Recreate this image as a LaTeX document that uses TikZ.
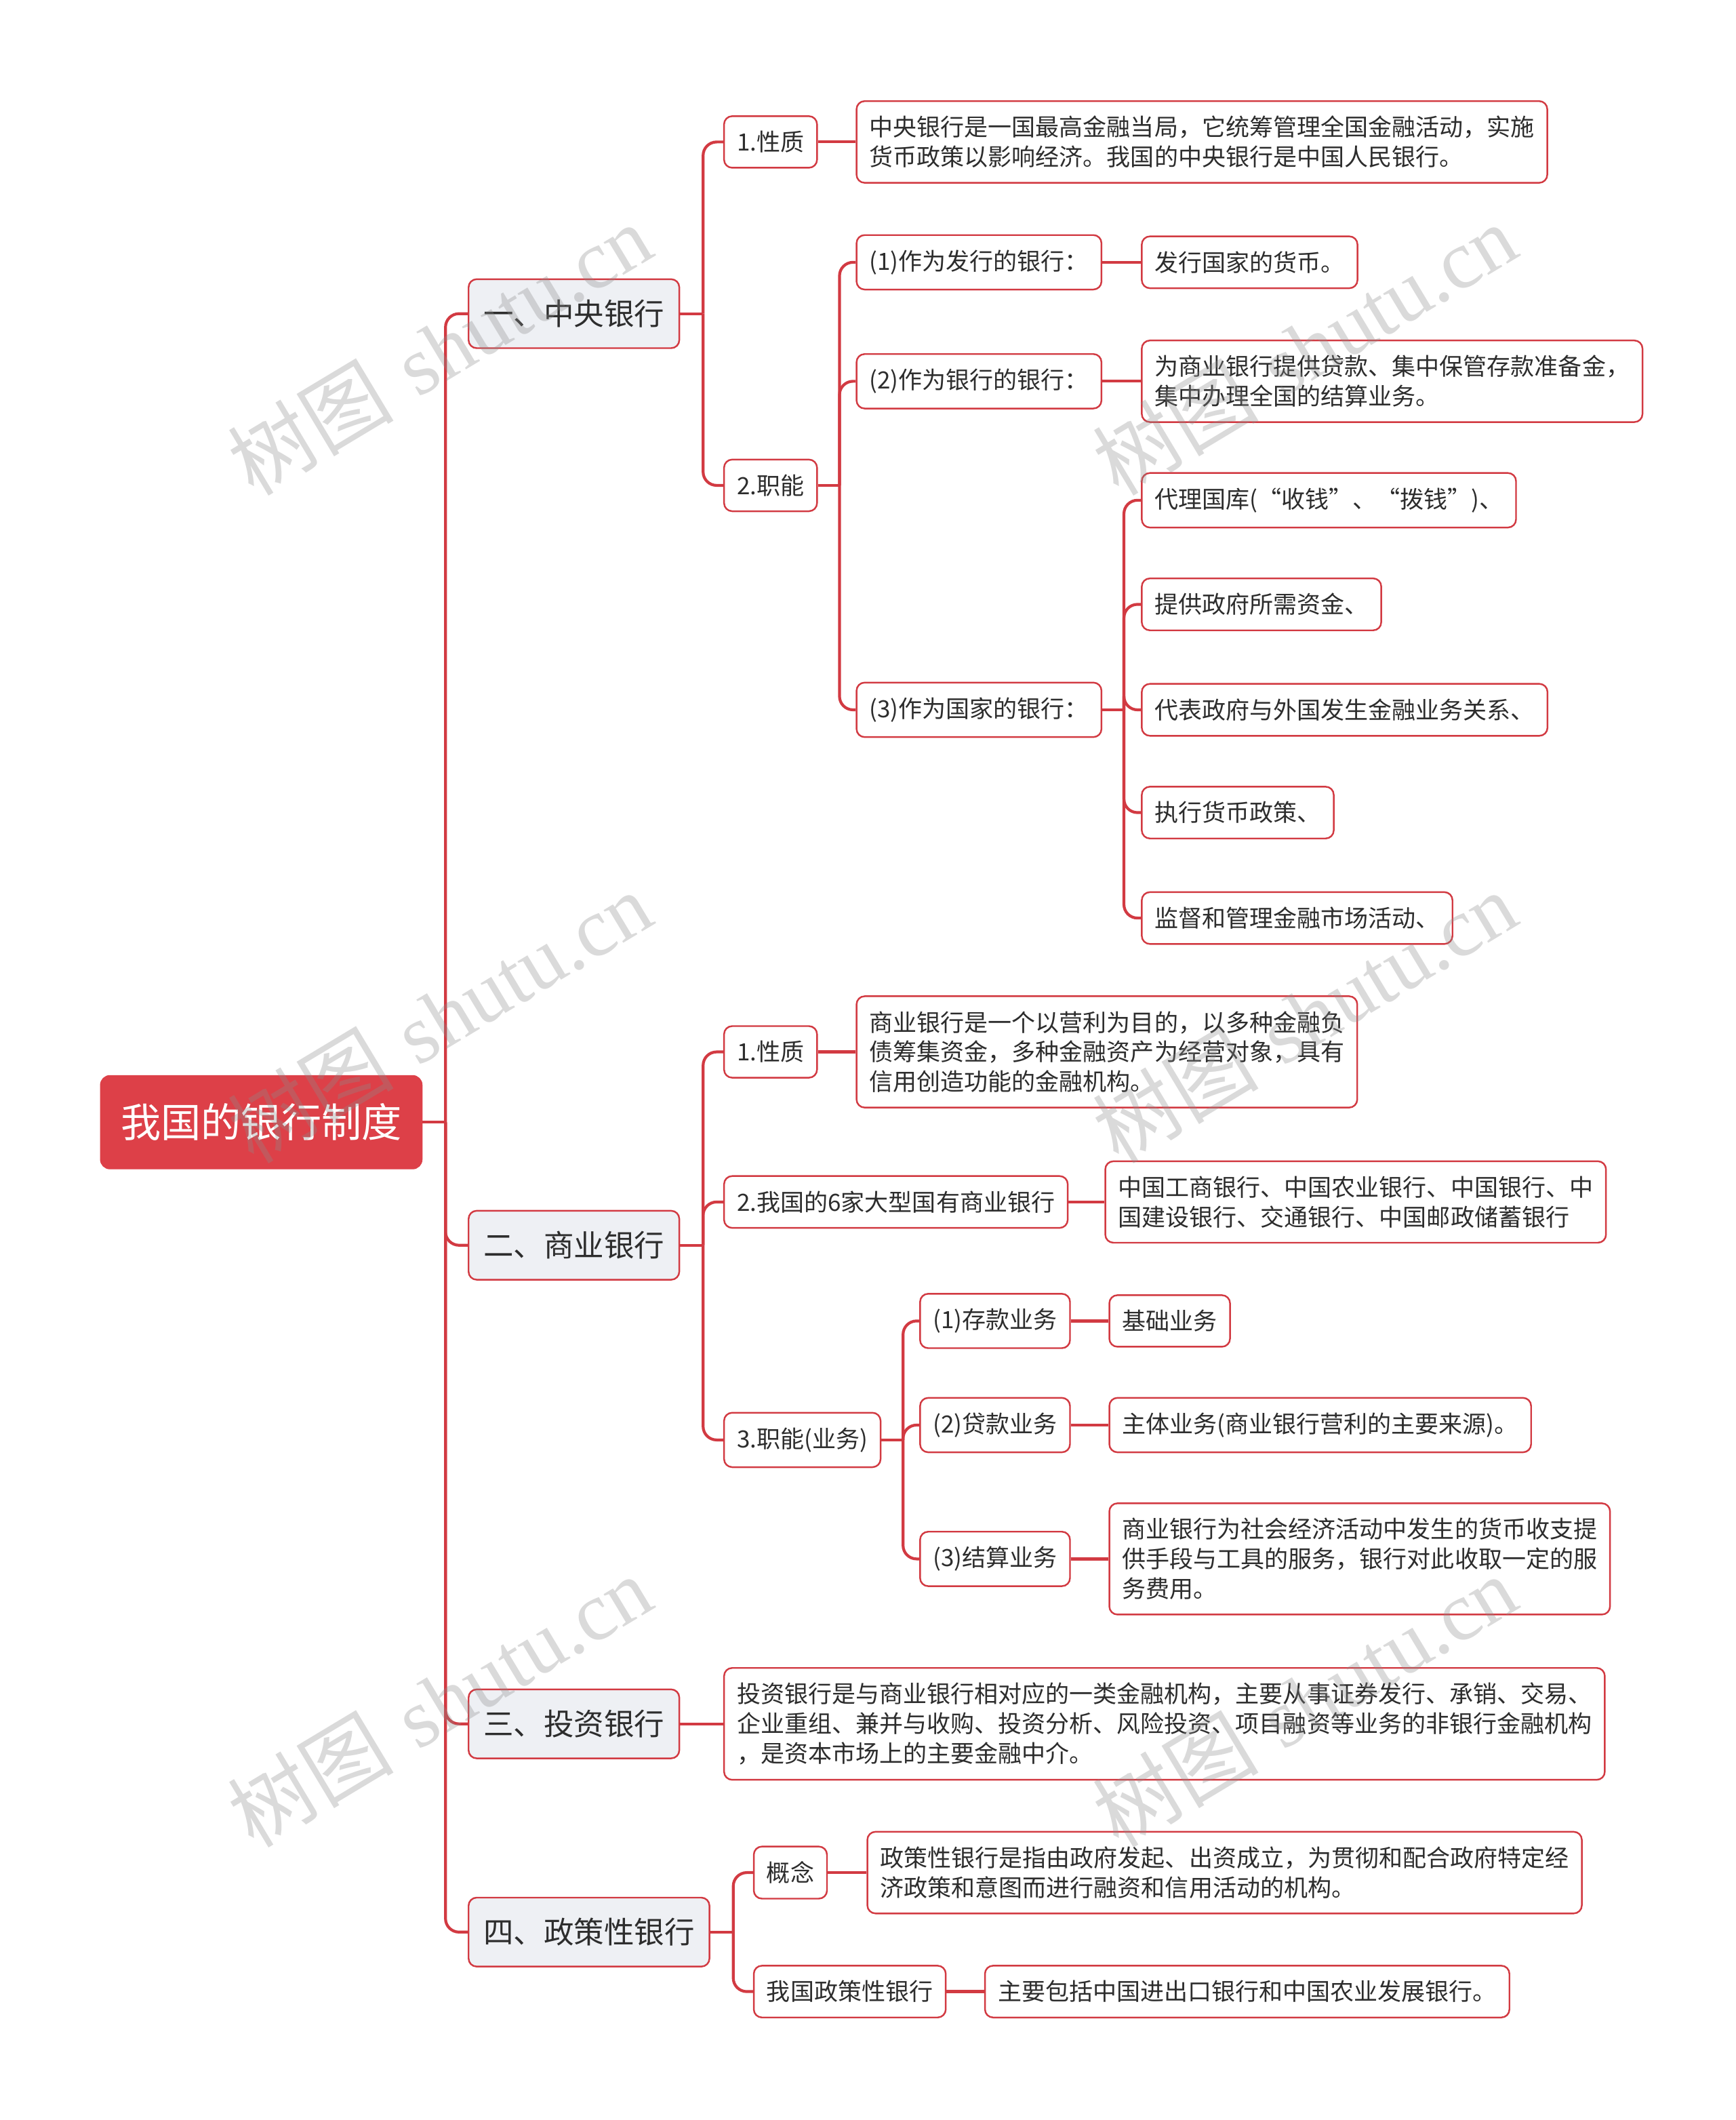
\documentclass[tikz,border=0pt]{standalone}
\usepackage{fontspec}
\newfontfamily\cjkfont{Noto Sans CJK SC}
\newfontfamily\wmserif{Liberation Serif}
\usetikzlibrary{positioning}
\definecolor{mapred}{RGB}{221,64,72}
\definecolor{linkred}{RGB}{210,58,66}
\definecolor{topicfill}{RGB}{238,240,244}
\definecolor{inkdark}{RGB}{45,45,45}
\tikzset{
  rootbox/.style={fill=mapred, draw=mapred, rounded corners=0.14cm, text=white,
    font=\cjkfont\fontsize{16.9}{20}\selectfont, minimum height=1.38cm,
    inner xsep=0.3cm, anchor=west},
  topicbox/.style={fill=topicfill, draw=linkred, line width=0.7pt, rounded corners=0.12cm,
    text=inkdark, font=\cjkfont\fontsize{12.7}{15}\selectfont, minimum height=1.02cm,
    inner xsep=0.22cm, anchor=west},
  itembox/.style={fill=white, draw=linkred, line width=0.7pt, rounded corners=0.12cm,
    text=inkdark, font=\cjkfont\fontsize{10}{12.5}\selectfont, minimum height=0.76cm,
    inner xsep=0.19cm, inner ysep=0.22cm, align=left, anchor=west},
  link/.style={draw=linkred, line width=1.2pt, rounded corners=0.2cm},
  watermark/.style={text=black!45, opacity=0.32, rotate=31,
    font=\fontsize{35}{40}\selectfont},
}

\begin{document}
\begin{tikzpicture}[x=0.02cm, y=-0.02cm]
  \useasboundingbox (0,0) rectangle (1284,1568);
  \fill[white] (0,0) rectangle (1284,1568);

  % --- root and main topics ---
  \node[rootbox] (root) at (74,830) {我国的银行制度};
  \node[topicbox] (central) at (346,232) {一、中央银行};
  \node[topicbox] (commercial) at (346,921) {二、商业银行};
  \node[topicbox] (invest) at (346,1275) {三、投资银行};
  \node[topicbox] (policy) at (346,1429) {四、政策性银行};

  % --- central bank ---
  \node[itembox] (cNature) at (535,105) {1.性质};
  \node[itembox] (cNatureTxt) at (633,105)
    {中央银行是一国最高金融当局，它统筹管理全国金融活动，实施\\货币政策以影响经济。我国的中央银行是中国人民银行。};
  \node[itembox] (cFunc) at (535,359) {2.职能};
  \node[itembox] (cIssue) at (633,194) {(1)作为发行的银行：};
  \node[itembox] (cIssueTxt) at (844,194) {发行国家的货币。};
  \node[itembox] (cBanks) at (633,282) {(2)作为银行的银行：};
  \node[itembox] (cBanksTxt) at (844,282)
    {为商业银行提供贷款、集中保管存款准备金，\\集中办理全国的结算业务。};
  \node[itembox] (cState) at (633,525) {(3)作为国家的银行：};
  \node[itembox] (cStateA) at (844,370) {代理国库(“收钱”、“拨钱”)、};
  \node[itembox] (cStateB) at (844,447) {提供政府所需资金、};
  \node[itembox] (cStateC) at (844,525) {代表政府与外国发生金融业务关系、};
  \node[itembox] (cStateD) at (844,601) {执行货币政策、};
  \node[itembox] (cStateE) at (844,679) {监督和管理金融市场活动、};

  % --- commercial bank ---
  \node[itembox] (sNature) at (535,778) {1.性质};
  \node[itembox] (sNatureTxt) at (633,778)
    {商业银行是一个以营利为目的，以多种金融负\\债筹集资金，多种金融资产为经营对象，具有\\信用创造功能的金融机构。};
  \node[itembox] (sBig) at (535,889) {2.我国的6家大型国有商业银行};
  \node[itembox] (sBigTxt) at (817,889)
    {中国工商银行、中国农业银行、中国银行、中\\国建设银行、交通银行、中国邮政储蓄银行};
  \node[itembox] (sFunc) at (535,1065) {3.职能(业务)};
  \node[itembox] (sDeposit) at (680,977) {(1)存款业务};
  \node[itembox] (sDepositTxt) at (820,977) {基础业务};
  \node[itembox] (sLoan) at (680,1054) {(2)贷款业务};
  \node[itembox] (sLoanTxt) at (820,1054) {主体业务(商业银行营利的主要来源)。};
  \node[itembox] (sSettle) at (680,1153) {(3)结算业务};
  \node[itembox] (sSettleTxt) at (820,1153)
    {商业银行为社会经济活动中发生的货币收支提\\供手段与工具的服务，银行对此收取一定的服\\务费用。};

  % --- investment bank ---
  \node[itembox] (investTxt) at (535,1275)
    {投资银行是与商业银行相对应的一类金融机构，主要从事证券发行、承销、交易、\\企业重组、兼并与收购、投资分析、风险投资、项目融资等业务的非银行金融机构\\，是资本市场上的主要金融中介。};

  % --- policy bank ---
  \node[itembox] (pIdea) at (557,1385) {概念};
  \node[itembox] (pIdeaTxt) at (641,1385)
    {政策性银行是指由政府发起、出资成立，为贯彻和配合政府特定经\\济政策和意图而进行融资和信用活动的机构。};
  \node[itembox] (pOurs) at (557,1473) {我国政策性银行};
  \node[itembox] (pOursTxt) at (728,1473) {主要包括中国进出口银行和中国农业发展银行。};

  % --- connectors ---
  \draw[link] (root.east) -- ++(17,0) coordinate (rootJ);
  \foreach \t in {central,commercial,invest,policy}
    \draw[link] (rootJ) |- (\t.west);

  \draw[link] (central.east) -- ++(17,0) coordinate (centralJ);
  \foreach \t in {cNature,cFunc}
    \draw[link] (centralJ) |- (\t.west);
  \draw[link] (cNature.east) -- (cNatureTxt.west);

  \draw[link] (cFunc.east) -- ++(16,0) coordinate (cFuncJ);
  \foreach \t in {cIssue,cBanks,cState}
    \draw[link] (cFuncJ) |- (\t.west);
  \draw[link] (cIssue.east) -- (cIssueTxt.west);
  \draw[link] (cBanks.east) -- (cBanksTxt.west);

  \draw[link] (cState.east) -- ++(16,0) coordinate (cStateJ);
  \foreach \t in {cStateA,cStateB,cStateC,cStateD,cStateE}
    \draw[link] (cStateJ) |- (\t.west);

  \draw[link] (commercial.east) -- ++(17,0) coordinate (commercialJ);
  \foreach \t in {sNature,sBig,sFunc}
    \draw[link] (commercialJ) |- (\t.west);
  \draw[link] (sNature.east) -- (sNatureTxt.west);
  \draw[link] (sBig.east) -- (sBigTxt.west);

  \draw[link] (sFunc.east) -- ++(16,0) coordinate (sFuncJ);
  \foreach \t in {sDeposit,sLoan,sSettle}
    \draw[link] (sFuncJ) |- (\t.west);
  \draw[link] (sDeposit.east) -- (sDepositTxt.west);
  \draw[link] (sLoan.east) -- (sLoanTxt.west);
  \draw[link] (sSettle.east) -- (sSettleTxt.west);

  \draw[link] (invest.east) -- (investTxt.west);

  \draw[link] (policy.east) -- ++(17,0) coordinate (policyJ);
  \foreach \t in {pIdea,pOurs}
    \draw[link] (policyJ) |- (\t.west);
  \draw[link] (pIdea.east) -- (pIdeaTxt.west);
  \draw[link] (pOurs.east) -- (pOursTxt.west);

  % --- watermarks ---
  \foreach \wx/\wy [count=\i] in {325/258,965/258,325/752,965/752,325/1258,965/1258}
    \node[watermark] (mark\i) at (\wx,\wy) {{\cjkfont 树图} {\wmserif shutu.cn}};
\end{tikzpicture}
\end{document}
